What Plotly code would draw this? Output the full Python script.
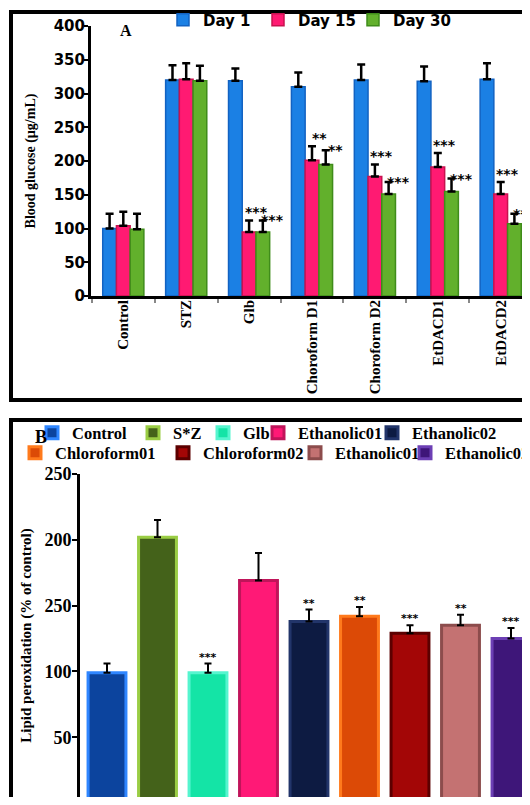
import plotly.graph_objects as go

# ---------------- Data: panel A (blood glucose) ----------------
a_groups = ["Control", "STZ", "Glb", "Choroform D1", "Choroform D2", "EtDACD1", "EtDACD2"]
a_series = ["Day 1", "Day 15", "Day 30"]
a_day1 = [100, 320, 319, 310, 320, 318, 321]
a_day15 = [104, 321, 95, 201, 177, 191, 151]
a_day30 = [99, 319, 95, 195, 151, 155, 107]
a_err1 = [22, 22, 18, 21, 23, 22, 24]
a_err15 = [21, 24, 17, 21, 18, 21, 18]
a_err30 = [23, 22, 17, 21, 18, 19, 15]
a_sig1 = ["", "", "", "", "", "", ""]
a_sig15 = ["", "", "***", "**", "***", "***", "***"]
a_sig30 = ["", "", "***", "**", "***", "***", "***"]
a_yticks = [0, 50, 100, 150, 200, 250, 300, 350, 400]

# ---------------- Data: panel B (lipid peroxidation) ----------------
b_groups = ["Control", "S*Z", "Glb", "Ethanolic01", "Ethanolic02",
            "Chloroform01", "Chloroform02", "Ethanolic01", "Ethanolic02"]
b_values = [99, 202, 99, 169, 138, 142, 129, 135, 125]
b_err = [7, 13, 7, 21, 9, 7, 6, 8, 8]
b_sig = ["", "", "***", "", "**", "**", "***", "**", "***"]
b_yticks = [0, 50, 100, 150, 200, 250]
b_yticktext = ["0", "50", "100", "250", "200", "250"]

# ---------------- Layout helpers ----------------
# the page body adds an 8 px margin, so the figure is 16 px smaller than the window
FW, FH = 514, 789
OFF = 8


def px_x(r):
    return (r - OFF) / FW


def px_y(r):
    return 1 - (r - OFF) / FH


SERIF = "Liberation Serif"
SANS = "DejaVu Sans"

a_fill = ["#1b80e4", "#ff1a72", "#62b02c"]
a_line = ["#1262c2", "#c8124f", "#3f8c1a"]
bar_w_a = 0.218

b_fill = ["#0c449e", "#44621a", "#14e4a6", "#ff1976", "#0d1b42",
          "#dc4a06", "#a30606", "#c47272", "#3e1679"]
b_line = ["#2f86ff", "#9acd44", "#56f5cf", "#c0145a", "#22356a",
          "#ff7a1c", "#5c0000", "#8c4c4c", "#6c3fb4"]
# legend layout (text start in window px, row centre in window px)
a_leg_pos = [(198, 20), (293, 20), (388, 20)]
b_leg_pos = [(67, 433), (168, 433), (238, 433), (293, 433), (407, 433),
             (50, 453), (198, 453), (330, 453), (440, 453)]

# pixel geometry of the two plot areas in the reference
A_LEFT, A_C0, A_STEP, A_TOP, A_BOT = 91, 123.3, 62.9, 26, 296
B_LEFT, B_C0, B_STEP, B_TOP, B_ZERO = 80, 107, 50.5, 474, 803
RIGHT, BOTTOM = OFF + FW, OFF + FH
b_ppu = (B_ZERO - B_TOP) / 250.0

fig = go.Figure()

a_vals = [a_day1, a_day15, a_day30]
a_errs = [a_err1, a_err15, a_err30]
a_sigs = [a_sig1, a_sig15, a_sig30]
a_leg_keys = ["legend", "legend12", "legend13"]
for j, name in enumerate(a_series):
    fig.add_trace(go.Bar(
        x=a_groups, y=a_vals[j], name=name,
        xaxis="x", yaxis="y",
        width=bar_w_a, offset=-1.5 * bar_w_a + j * bar_w_a,
        marker=dict(color=a_fill[j], line=dict(color=a_line[j], width=1.5)),
        error_y=dict(type="data", array=a_errs[j], arrayminus=[0] * len(a_groups),
                     symmetric=False, color="black", thickness=2.5, width=4),
        legend=a_leg_keys[j],
    ))

for i, name in enumerate(b_groups):
    fig.add_trace(go.Bar(
        x=[i], y=[b_values[i]], name=name,
        xaxis="x2", yaxis="y2",
        width=0.75, offset=-0.375,
        marker=dict(color=b_fill[i], line=dict(color=b_line[i], width=3)),
        error_y=dict(type="data", array=[b_err[i]], arrayminus=[0],
                     symmetric=False, color="black", thickness=2, width=3.5),
        legend=f"legend{i + 2}",
    ))

annotations = []
star_xshift = [8, 7, 10]
star_yshift = [1, 8, 0]
for j in range(3):
    for k, g in enumerate(a_groups):
        if a_sigs[j][k]:
            annotations.append(dict(
                x=k + (j - 1) * bar_w_a, y=a_vals[j][k] + a_errs[j][k],
                xref="x", yref="y", text=a_sigs[j][k], showarrow=False,
                xanchor="center", yanchor="middle",
                xshift=star_xshift[j], yshift=star_yshift[j],
                font=dict(family=SANS, size=14, color="black", weight="bold")))
for i in range(len(b_groups)):
    if b_sig[i]:
        annotations.append(dict(
            x=i, y=b_values[i] + b_err[i], xref="x2", yref="y2",
            text=b_sig[i], showarrow=False, xanchor="center", yanchor="bottom",
            yshift=-2, font=dict(family=SANS, size=11, color="black", weight="bold")))
annotations.append(dict(x=px_x(125.5), y=px_y(31), xref="paper", yref="paper", text="A",
                        showarrow=False, xanchor="center", yanchor="middle",
                        font=dict(family=SERIF, size=16, color="black", weight="bold")))
annotations.append(dict(x=px_x(41), y=px_y(437), xref="paper", yref="paper", text="B",
                        showarrow=False, xanchor="center", yanchor="middle",
                        font=dict(family=SERIF, size=18, color="black", weight="bold")))

shapes = [
    dict(type="rect", xref="paper", yref="paper", x0=px_x(11), x1=1.05,
         y0=px_y(400), y1=px_y(12), line=dict(color="black", width=4)),
    dict(type="rect", xref="paper", yref="paper", x0=px_x(11), x1=1.05,
         y0=-0.05, y1=px_y(420), line=dict(color="black", width=4)),
]

layout = dict(
    width=FW, height=FH, margin=dict(l=0, r=0, t=0, b=0, autoexpand=False),
    paper_bgcolor="white", plot_bgcolor="white",
    barmode="overlay", showlegend=True,
    annotations=annotations, shapes=shapes,
    xaxis=dict(domain=[px_x(A_LEFT), 1], anchor="y", type="category",
               range=[(A_LEFT - A_C0) / A_STEP, (RIGHT - A_C0) / A_STEP],
               tickangle=-90, tickson="boundaries", ticks="outside", ticklen=4,
               tickcolor="#888", tickwidth=1.5, ticklabelstandoff=-5,
               showline=True, linecolor="black", linewidth=3, showgrid=False,
               tickfont=dict(family=SERIF, size=15, color="black", weight="bold")),
    yaxis=dict(domain=[px_y(A_BOT), px_y(A_TOP)], anchor="x", range=[0, 400],
               tickvals=a_yticks, ticks="outside", ticklen=4, tickwidth=2, tickcolor="black",
               ticklabelstandoff=-4,
               showline=True, linecolor="black", linewidth=3, showgrid=False, zeroline=False,
               tickfont=dict(family=SANS, size=15, color="black", weight="bold"),
               title=dict(text="Blood glucose (µg/mL)", standoff=15,
                          font=dict(family=SERIF, size=14, color="black", weight="bold"))),
    xaxis2=dict(domain=[px_x(B_LEFT), 1], anchor="y2",
                range=[(B_LEFT - B_C0) / B_STEP, (RIGHT - B_C0) / B_STEP],
                showticklabels=False, ticks="", showline=True, linecolor="black",
                linewidth=3, showgrid=False, zeroline=False),
    yaxis2=dict(domain=[0, px_y(B_TOP)], anchor="x2",
                range=[(B_ZERO - BOTTOM) / b_ppu, 250],
                tickvals=b_yticks, ticktext=b_yticktext, ticks="outside", ticklen=5,
                tickwidth=2, tickcolor="black", ticklabelstandoff=-3,
                showline=True, linecolor="black", linewidth=3, showgrid=False, zeroline=False,
                tickfont=dict(family=SERIF, size=18, color="black", weight="bold"),
                title=dict(text="Lipid peroxidation (% of control)", standoff=10,
                           font=dict(family=SERIF, size=15, color="black", weight="bold"))),
)

leg_common = dict(orientation="h", xanchor="left", yanchor="middle",
                  xref="container", yref="container",
                  bgcolor="rgba(0,0,0,0)", borderwidth=0)
for j, key in enumerate(a_leg_keys):
    tx, ty = a_leg_pos[j]
    layout[key] = dict(leg_common, x=px_x(tx + 5 - 40), y=px_y(ty),
                       font=dict(family=SANS, size=15, color="black", weight="bold"))
for i in range(len(b_groups)):
    tx, ty = b_leg_pos[i]
    layout[f"legend{i + 2}"] = dict(leg_common, x=px_x(tx + 5 - 40), y=px_y(ty),
                                    font=dict(family=SERIF, size=16.5, color="black", weight="bold"))

fig.update_layout(**layout)
fig.write_html("out.html")
